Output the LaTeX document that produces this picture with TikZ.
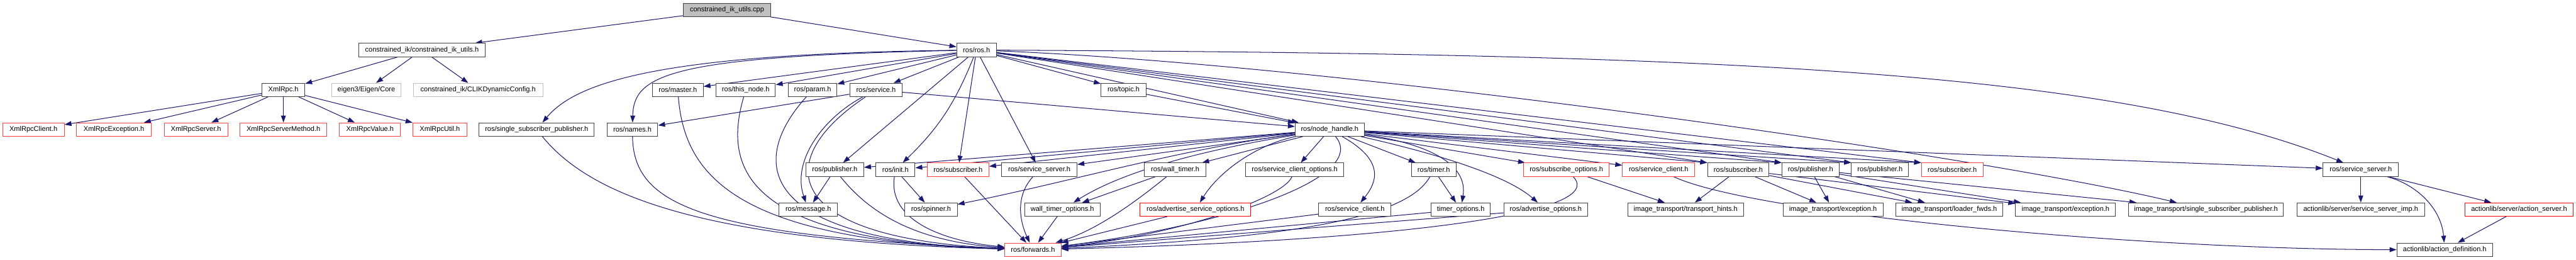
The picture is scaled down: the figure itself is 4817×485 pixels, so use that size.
\documentclass[tikz,border=0pt]{standalone}
\usepackage{fontspec}
\setmainfont{Liberation Sans}
\usetikzlibrary{arrows.meta}
\definecolor{navy}{RGB}{25,25,112}
\definecolor{rbord}{RGB}{255,64,64}
\definecolor{gbord}{RGB}{191,191,191}
\definecolor{kbord}{RGB}{64,64,64}
\pgfdeclarelayer{background}
\pgfsetlayers{background,main}
\begin{document}
\begin{tikzpicture}[x=1pt,y=-1pt,
  box/.style={draw=kbord, fill=white, line width=1.2pt, minimum height=25pt, inner sep=0pt, font=\fontsize{13}{15}\selectfont},
  rbox/.style={box, draw=rbord},
  rtwobox/.style={box, draw=red},
  gbox/.style={box, draw=gbord},
  rootbox/.style={box, fill=gbord},
  dep/.style={draw=navy, line width=1.2pt, -{Triangle[length=13pt,width=9pt]}}]
\useasboundingbox (0,0) rectangle (4817,485);
% row 0
\node[rootbox, minimum width=163pt] (cpp) at (1359.5,18.5) {constrained\_ik\_utils.cpp};
% row 1
\node[box, minimum width=236pt] (ciku) at (789,93.5) {constrained\_ik/constrained\_ik\_utils.h};
\node[box, minimum width=74pt] (ros) at (1826,93.5) {ros/ros.h};
% row 2
\node[box, minimum width=80pt] (xmlrpc) at (530,168) {XmlRpc.h};
\node[gbox, minimum width=130pt] (eigen) at (685,168) {eigen3/Eigen/Core};
\node[gbox, minimum width=242pt] (clik) at (894,168) {constrained\_ik/CLIKDynamicConfig.h};
\node[box, minimum width=95pt] (master) at (1267.5,168) {ros/master.h};
\node[box, minimum width=111pt] (thisnode) at (1394.5,168) {ros/this\_node.h};
\node[box, minimum width=91pt] (param) at (1519.5,168) {ros/param.h};
\node[box, minimum width=98pt] (service) at (1638,168) {ros/service.h};
\node[box, minimum width=84pt] (topic) at (2101,168) {ros/topic.h};
% row 3
\node[rbox, minimum width=115pt] (xclient) at (62.5,242) {XmlRpcClient.h};
\node[rbox, minimum width=140pt] (xexc) at (213,242) {XmlRpcException.h};
\node[rbox, minimum width=119pt] (xserver) at (366.5,242) {XmlRpcServer.h};
\node[rbox, minimum width=162pt] (xsm) at (530,242) {XmlRpcServerMethod.h};
\node[rbox, minimum width=114pt] (xval) at (692,242) {XmlRpcValue.h};
\node[rbox, minimum width=101pt] (xutil) at (822.5,242) {XmlRpcUtil.h};
\node[box, minimum width=215pt] (ssp) at (1003.5,242) {ros/single\_subscriber\_publisher.h};
\node[box, minimum width=95pt] (names) at (1182.5,242) {ros/names.h};
\node[box, minimum width=129pt] (nh) at (2486.5,242) {ros/node\_handle.h};
% row 4
\node[box, minimum width=108pt] (pub1) at (1561,317) {ros/publisher.h};
\node[box, minimum width=73pt] (init) at (1674.5,317) {ros/init.h};
\node[rbox, minimum width=115pt] (subr1) at (1791.5,317) {ros/subscriber.h};
\node[box, minimum width=141pt] (ss1) at (1943.5,317) {ros/service\_server.h};
\node[box, minimum width=115pt] (wt) at (2197.5,317) {ros/wall\_timer.h};
\node[box, minimum width=184pt] (sco) at (2421,317) {ros/service\_client\_options.h};
\node[box, minimum width=84pt] (timer) at (2681,317) {ros/timer.h};
\node[rbox, minimum width=160pt] (subopt) at (2929,317) {ros/subscribe\_options.h};
\node[rbox, minimum width=135pt] (scr) at (3101.5,317) {ros/service\_client.h};
\node[box, minimum width=115pt] (subb) at (3250.5,317) {ros/subscriber.h};
\node[box, minimum width=107pt] (pub2) at (3385.5,317) {ros/publisher.h};
\node[box, minimum width=107pt] (pub3) at (3515.5,317) {ros/publisher.h};
\node[rbox, minimum width=115pt] (subr2) at (3650.5,317) {ros/subscriber.h};
\node[box, minimum width=141pt] (ss2) at (4414.5,317) {ros/service\_server.h};
% row 5
\node[box, minimum width=109pt] (msg) at (1511.5,391.5) {ros/message.h};
\node[box, minimum width=98pt] (spin) at (1741,391.5) {ros/spinner.h};
\node[box, minimum width=141pt] (wto) at (1986.5,391.5) {wall\_timer\_options.h};
\node[rtwobox, minimum width=207pt] (aso) at (2235.5,391.5) {ros/advertise\_service\_options.h};
\node[box, minimum width=135pt] (sc) at (2533.5,391.5) {ros/service\_client.h};
\node[box, minimum width=111pt] (topt) at (2731.5,391.5) {timer\_options.h};
\node[box, minimum width=157pt] (ao) at (2890.5,391.5) {ros/advertise\_options.h};
\node[box, minimum width=216pt] (th) at (3152,391.5) {image\_transport/transport\_hints.h};
\node[box, minimum width=187pt] (exca) at (3427.5,391.5) {image\_transport/exception.h};
\node[box, minimum width=200pt] (lf) at (3645,391.5) {image\_transport/loader\_fwds.h};
\node[box, minimum width=187pt] (excb) at (3862.5,391.5) {image\_transport/exception.h};
\node[box, minimum width=290pt] (issp) at (4125,391.5) {image\_transport/single\_subscriber\_publisher.h};
\node[box, minimum width=239pt] (ssimp) at (4414.5,391.5) {actionlib/server/service\_server\_imp.h};
\node[rtwobox, minimum width=203pt] (actsrv) at (4710.5,391.5) {actionlib/server/action\_server.h};
% row 6
\node[rbox, minimum width=105pt] (fwd) at (1931.5,466.5) {ros/forwards.h};
\node[box, minimum width=179pt] (ad) at (4571.5,466.5) {actionlib/action\_definition.h};

\begin{pgfonlayer}{background}
\draw[dep] (cpp) -- (ciku);
\draw[dep] (cpp) -- (ros);
\draw[dep] (ciku) -- (xmlrpc);
\draw[dep] (ciku) -- (eigen);
\draw[dep] (ciku) -- (clik);
\foreach \t in {xclient,xexc,xserver,xsm,xval,xutil} \draw[dep] (xmlrpc) -- (\t);
\foreach \t in {master,thisnode,param,service,topic,nh,subr1,ss1,pub1} \draw[dep] (ros) -- (\t);
\foreach \t in {subb,pub2,pub3,subr2} \draw[dep] (ros) -- (\t.north west);
\draw[dep] (ros) to[bend left=12] (init);
\draw[dep] (ros) .. controls (1250,100) and (1080,150) .. (ssp);
\draw[dep] (ros) .. controls (1250,105) and (1185,140) .. (names);
\draw[dep] (ros) .. controls (3200,100) and (3950,130) .. (ss2);
\draw[dep] (ros) .. controls (2500,120) and (3700,290) .. (issp);
\draw[dep] (topic) -- (nh);
\draw[dep] (service) -- (nh);
\draw[dep] (service) -- (names);
\draw[dep] (service) .. controls (1540,220) and (1480,300) .. (msg);
\draw[dep] (service) .. controls (1440,300) and (1460,445) .. (fwd);
\draw[dep] (master) .. controls (1280,330) and (1380,450) .. (fwd);
\draw[dep] (thisnode) .. controls (1350,320) and (1400,450) .. (fwd);
\draw[dep] (param) .. controls (1400,300) and (1410,450) .. (fwd);
\draw[dep] (names) .. controls (1185,380) and (1300,440) .. (fwd);
\draw[dep] (ssp) .. controls (1100,360) and (1300,450) .. (fwd);
\draw[dep] (pub1) -- (msg);
\draw[dep] (pub1) .. controls (1620,390) and (1700,450) .. (fwd);
\draw[dep] (init) -- (spin);
\draw[dep] (init) .. controls (1660,410) and (1760,450) .. (fwd);
\draw[dep] (subr1) -- (fwd);
\draw[dep] (ss1) .. controls (1895,370) and (1910,420) .. (fwd);
\foreach \t in {pub1,init,subr1,ss1,wt,sco,timer,subopt,scr,ss2} \draw[dep] (nh) -- (\t);
\foreach \t in {subb,pub2,pub3,subr2} \draw[dep] (nh) -- (\t.north west);
\draw[dep] (nh) .. controls (2200,280) and (2000,340) .. (spin);
\draw[dep] (nh) .. controls (2250,280) and (2100,320) .. (wto);
\draw[dep] (nh) .. controls (2350,270) and (2280,320) .. (aso);
\draw[dep] (nh) .. controls (2560,330) and (2300,420) .. (fwd);
\draw[dep] (nh) .. controls (2590,300) and (2575,340) .. (sc);
\draw[dep] (nh) .. controls (2680,270) and (2745,310) .. (topt);
\draw[dep] (nh) .. controls (2700,290) and (2820,330) .. (ao);
\draw[dep] (wt) -- (wto);
\draw[dep] (wt) .. controls (2120,380) and (2050,430) .. (fwd);
\draw[dep] (wto) -- (fwd);
\draw[dep] (timer) -- (topt);
\draw[dep] (timer) .. controls (2630,410) and (2400,445) .. (fwd);
\draw[dep] (topt) -- (fwd);
\draw[dep] (sc) -- (fwd);
\draw[dep] (ao) -- (fwd);
\draw[dep] (aso) -- (fwd);
\draw[dep] (sco) .. controls (2400,370) and (2200,440) .. (fwd);
\draw[dep] (subopt) .. controls (3010,400) and (2600,450) .. (fwd);
\draw[dep] (subopt) -- (th);
\foreach \t in {th,exca,lf,excb} \draw[dep] (subb) -- (\t);
\foreach \t in {exca,lf,excb,issp} \draw[dep] (pub2) -- (\t);
\draw[dep] (scr) .. controls (3280,400) and (4000,466) .. (ad);
\draw[dep] (ss2) -- (ssimp);
\draw[dep] (ss2) .. controls (4520,345) and (4565,390) .. (ad);
\draw[dep] (ss2) -- (actsrv);
\draw[dep] (actsrv) -- (ad);
\end{pgfonlayer}
\end{tikzpicture}
\end{document}
